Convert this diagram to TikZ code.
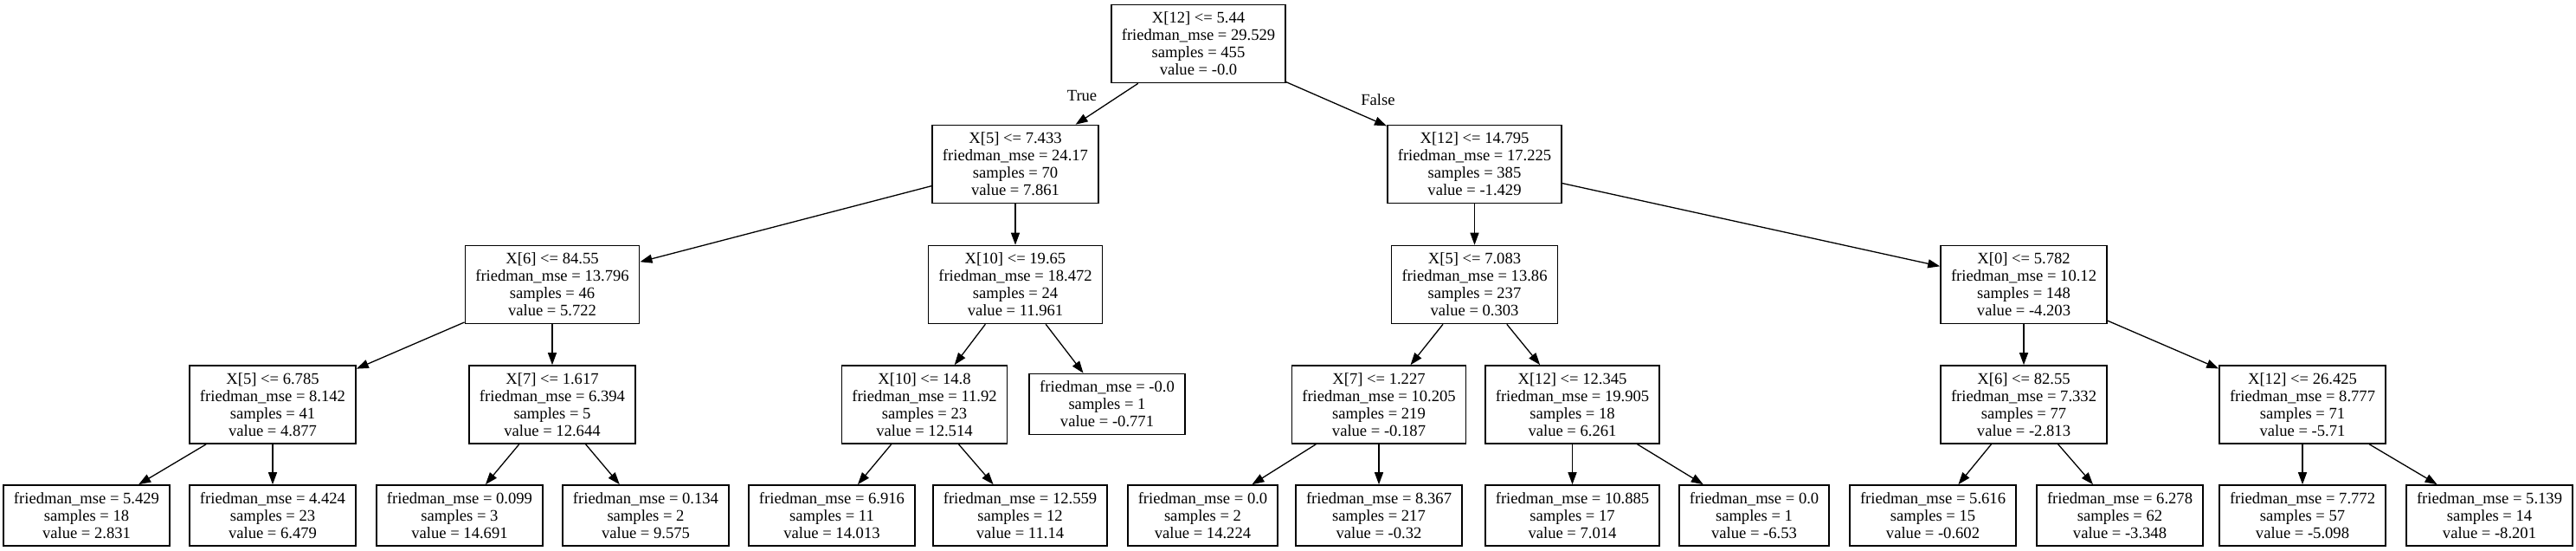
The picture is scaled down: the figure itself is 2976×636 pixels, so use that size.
\documentclass[tikz,border=0pt]{standalone}
\usepackage{fontspec}
\setmainfont{Liberation Serif}
\usetikzlibrary{arrows.meta}
\newcommand\splittxt[5]{X[#1] <= #2\\friedman\_mse = #3\\samples = #4\\value = #5}
\newcommand\leaftxt[3]{friedman\_mse = #1\\samples = #2\\value = #3}
\begin{document}
\begin{tikzpicture}[x=1pt,y=-1pt,
  splitbox/.style={draw, line width=1.6pt, rectangle, inner xsep=12pt, inner ysep=0pt,
    minimum height=90pt, align=center, font=\fontsize{18.6}{20}\selectfont},
  leafbox/.style={splitbox, minimum height=70pt},
  arr/.style={-{Triangle[length=14pt,width=10pt]}, line width=1.3pt},
  lbl/.style={font=\fontsize{18.6}{20}\selectfont, inner sep=0pt}]
\useasboundingbox (0,0) rectangle (2976,636);
% level 0
\node[splitbox] (root) at (1384.5,50.5) {\splittxt{12}{5.44}{29.529}{455}{-0.0}};
% level 1
\node[splitbox] (n1) at (1173,189.5) {\splittxt{5}{7.433}{24.17}{70}{7.861}};
\node[splitbox] (n2) at (1703.5,189.5) {\splittxt{12}{14.795}{17.225}{385}{-1.429}};
% level 2
\node[splitbox] (a) at (638,328.5) {\splittxt{6}{84.55}{13.796}{46}{5.722}};
\node[splitbox] (b) at (1173,328.5) {\splittxt{10}{19.65}{18.472}{24}{11.961}};
\node[splitbox] (c) at (1703.5,328.5) {\splittxt{5}{7.083}{13.86}{237}{0.303}};
\node[splitbox] (d) at (2338,328.5) {\splittxt{0}{5.782}{10.12}{148}{-4.203}};
% level 3
\node[splitbox] (e) at (315,467) {\splittxt{5}{6.785}{8.142}{41}{4.877}};
\node[splitbox] (f) at (638,467) {\splittxt{7}{1.617}{6.394}{5}{12.644}};
\node[splitbox] (g) at (1068,467) {\splittxt{10}{14.8}{11.92}{23}{12.514}};
\node[leafbox] (h) at (1279,466.5) {\leaftxt{-0.0}{1}{-0.771}};
\node[splitbox] (i) at (1593,467) {\splittxt{7}{1.227}{10.205}{219}{-0.187}};
\node[splitbox] (j) at (1816.5,467) {\splittxt{12}{12.345}{19.905}{18}{6.261}};
\node[splitbox] (k) at (2338,467) {\splittxt{6}{82.55}{7.332}{77}{-2.813}};
\node[splitbox] (l) at (2660,467) {\splittxt{12}{26.425}{8.777}{71}{-5.71}};
% level 4
\node[leafbox] (e1) at (100,595) {\leaftxt{5.429}{18}{2.831}};
\node[leafbox] (e2) at (315,595) {\leaftxt{4.424}{23}{6.479}};
\node[leafbox] (f1) at (531,595) {\leaftxt{0.099}{3}{14.691}};
\node[leafbox] (f2) at (746,595) {\leaftxt{0.134}{2}{9.575}};
\node[leafbox] (g1) at (961,595) {\leaftxt{6.916}{11}{14.013}};
\node[leafbox] (g2) at (1178.5,595) {\leaftxt{12.559}{12}{11.14}};
\node[leafbox] (i1) at (1389.5,595) {\leaftxt{0.0}{2}{14.224}};
\node[leafbox] (i2) at (1593,595) {\leaftxt{8.367}{217}{-0.32}};
\node[leafbox] (j1) at (1816.5,595) {\leaftxt{10.885}{17}{7.014}};
\node[leafbox] (j2) at (2026.5,595) {\leaftxt{0.0}{1}{-6.53}};
\node[leafbox] (k1) at (2233,595) {\leaftxt{5.616}{15}{-0.602}};
\node[leafbox] (k2) at (2449,595) {\leaftxt{6.278}{62}{-3.348}};
\node[leafbox] (l1) at (2660,595) {\leaftxt{7.772}{57}{-5.098}};
\node[leafbox] (l2) at (2876,595) {\leaftxt{5.139}{14}{-8.201}};
% edge labels
\node[lbl] (ltrue) at (1250,111) {True};
\node[lbl] (lfalse) at (1592,115) {False};
% edges
\draw[arr] (root) -- (n1);
\draw[arr] (root) -- (n2);
\draw[arr] (n1) -- (a);
\draw[arr] (n1) -- (b);
\draw[arr] (n2) -- (c);
\draw[arr] (n2) -- (d);
\draw[arr] (a) -- (e);
\draw[arr] (a) -- (f);
\draw[arr] (b) -- (g);
\draw[arr] (b) -- (h);
\draw[arr] (c) -- (i);
\draw[arr] (c) -- (j);
\draw[arr] (d) -- (k);
\draw[arr] (d) -- (l);
\draw[arr] (e) -- (e1);
\draw[arr] (e) -- (e2);
\draw[arr] (f) -- (f1);
\draw[arr] (f) -- (f2);
\draw[arr] (g) -- (g1);
\draw[arr] (g) -- (g2);
\draw[arr] (i) -- (i1);
\draw[arr] (i) -- (i2);
\draw[arr] (j) -- (j1);
\draw[arr] (j) -- (j2);
\draw[arr] (k) -- (k1);
\draw[arr] (k) -- (k2);
\draw[arr] (l) -- (l1);
\draw[arr] (l) -- (l2);
\end{tikzpicture}
\end{document}
